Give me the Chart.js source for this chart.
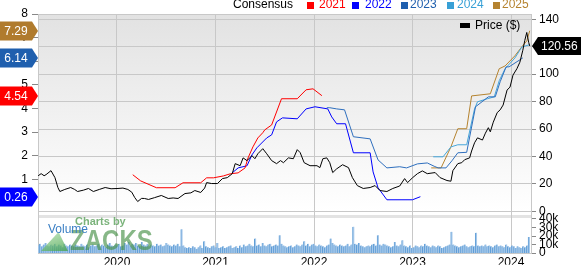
<!DOCTYPE html>
<html>
<head>
<meta charset="utf-8">
<script src="https://cdn.jsdelivr.net/npm/chart.js@4.4.1/dist/chart.umd.min.js"></script>
<style>
    body { margin: 0; background: #fff; }
    #wrap { position: relative; width: 581px; height: 265px; overflow: hidden; font-family: 'Liberation Sans', Arial, sans-serif; }
    #wrap canvas { position: absolute; left: 0; top: 0; }
    .t { position: absolute; white-space: nowrap; font-size: 12px; line-height: 12px; }
    .sq { position: absolute; width: 7px; height: 7px; top: 2px; }
    .wm { position: absolute; white-space: nowrap; line-height: 1; }
</style>
</head>
<body>
<div id="wrap">
    <canvas id="zacksChart" width="581" height="265"></canvas>

    <div class="t" style="left:233px;top:-2px;color:#000">Consensus</div>
    <div class="sq" style="left:307px;background:#ff0000"></div>
    <div class="t" style="left:319px;top:-2px;color:#ff0000">2021</div>
    <div class="sq" style="left:352px;background:#0000ff"></div>
    <div class="t" style="left:365px;top:-2px;color:#0000ff">2022</div>
    <div class="sq" style="left:401px;background:#1f5fae"></div>
    <div class="t" style="left:410px;top:-2px;color:#1f5fae">2023</div>
    <div class="sq" style="left:447px;background:#38a0d6"></div>
    <div class="t" style="left:457px;top:-2px;color:#38a0d6">2024</div>
    <div class="sq" style="left:493px;background:#b5832f"></div>
    <div class="t" style="left:502px;top:-2px;color:#b5832f">2025</div>

    <div style="position:absolute;left:460px;top:23px;width:10px;height:5px;background:#000"></div>
    <div class="t" style="left:475px;top:19px;color:#000">Price ($)</div>

    <div style="position:absolute;left:41px;top:232px;width:27px;height:19px;opacity:0.75;
        background:linear-gradient(160deg,#b6e3b0,#3f9f45);clip-path:polygon(0 100%,100% 100%,65% 0)"></div>
    <div class="wm" style="left:75px;top:216px;font-size:11px;font-weight:bold;color:rgba(90,160,90,0.8)">Charts by</div>
    <div class="wm" style="left:70px;top:226px;font-size:29px;font-weight:bold;color:rgba(70,145,70,0.65);transform:scaleX(0.83);transform-origin:left top">ZACKS</div>
    <div class="wm" style="left:48px;top:223px;font-size:12px;color:#3a7fc4">Volume</div>
</div>

<script>
// tick labels
const yearTicks = [2020, 2021, 2022, 2023, 2024];
const priceTicks = [0, 20, 40, 60, 80, 100, 120, 140];
const epsTicks = [1, 2, 3, 4, 5, 6, 7, 8];
const volTicks = [0, 10, 20, 30, 40];

// price ($), dates as decimal years
const priceDates = [
    2019.20, 2019.23, 2019.26, 2019.28, 2019.33, 2019.37, 2019.40, 2019.42, 2019.47, 2019.53,
    2019.57, 2019.60, 2019.66, 2019.71, 2019.76, 2019.82, 2019.88, 2019.94, 2020.01, 2020.06,
    2020.11, 2020.15, 2020.18, 2020.21, 2020.25, 2020.28, 2020.32, 2020.38, 2020.45, 2020.52,
    2020.57, 2020.62, 2020.69, 2020.75, 2020.79, 2020.85, 2020.89, 2020.91, 2020.96, 2021.02,
    2021.07, 2021.12, 2021.17, 2021.20, 2021.25, 2021.28, 2021.32, 2021.37, 2021.40, 2021.43,
    2021.48, 2021.52, 2021.57, 2021.62, 2021.66, 2021.69, 2021.74, 2021.79, 2021.83, 2021.86,
    2021.90, 2021.96, 2022.03, 2022.06, 2022.09, 2022.13, 2022.16, 2022.19, 2022.23, 2022.29,
    2022.35, 2022.39, 2022.44, 2022.50, 2022.57, 2022.62, 2022.67, 2022.74, 2022.80, 2022.87,
    2022.92, 2022.95, 2023.00, 2023.05, 2023.10, 2023.15, 2023.23, 2023.28, 2023.35, 2023.39,
    2023.41, 2023.46, 2023.50, 2023.53, 2023.58, 2023.60, 2023.63, 2023.66, 2023.71, 2023.74,
    2023.77, 2023.79, 2023.82, 2023.86, 2023.89, 2023.92, 2023.96, 2023.99, 2024.02, 2024.06,
    2024.09, 2024.12, 2024.14, 2024.16, 2024.18, 2024.19
];
const priceValues = [
    26, 27.5, 26, 26.8, 29.7, 24.6, 17.4, 14.5, 16, 17.4,
    16, 14.5, 15.5, 16.7, 14.5, 16, 17.4, 16.5, 16.7, 17,
    16, 14, 10.1, 7.2, 9.5, 9.4, 8.7, 10, 11.6, 9.4,
    9.8, 9.4, 13, 13.5, 15.2, 13.8, 17, 21, 20.3, 20.3,
    23.9, 24.6, 27.5, 34.8, 33.3, 39, 37, 40.6, 38.4, 42,
    45.7, 42, 37, 34.8, 37, 35.5, 39, 38.4, 45, 42.8,
    35.5, 33.3, 33.3, 31.9, 38.4, 39, 35.5, 28.3, 31, 34,
    31.9, 24.6, 18.8, 16.7, 17.4, 18.8, 15.2, 14.5, 16.7, 18.5,
    23.9, 21, 24.5, 27.5, 29.5, 27.5, 28.3, 24.6, 22.5, 22,
    29.7, 34.8, 35.5, 37.7, 39, 44, 50, 53.6, 52, 57,
    61, 58, 65, 72, 74, 77.5, 88.4, 90.6, 99.3, 104,
    108.7, 117.4, 124.6, 130.4, 123, 120.56
];

// consensus EPS estimates by fiscal year
const eps2021Dates = [2020.16, 2020.24, 2020.40, 2020.59, 2020.67, 2020.85, 2020.91, 2020.98, 2021.08, 2021.15, 2021.23,
    2021.30, 2021.33, 2021.38, 2021.43, 2021.48, 2021.50, 2021.57, 2021.67, 2021.83, 2021.92, 2021.99, 2022.08];
const eps2021Values = [1.19, 0.93, 0.64, 0.64, 0.85, 0.85, 1.06, 1.06, 1.14, 1.23, 1.27,
    1.48, 1.9, 2.37, 2.75, 2.97, 3.09, 3.3, 4.41, 4.41, 4.79, 4.83, 4.54];

const eps2022Dates = [2021.17, 2021.23, 2021.32, 2021.37, 2021.42, 2021.52, 2021.57, 2021.62, 2021.68, 2021.83, 2021.92,
    2022.01, 2022.14, 2022.18, 2022.23, 2022.32, 2022.40, 2022.57, 2022.60, 2022.65, 2022.74, 2023.00, 2023.08];
const eps2022Values = [1.27, 1.48, 1.57, 2.03, 2.33, 2.75, 2.88, 3.43, 3.6, 3.56, 3.98,
    4.07, 3.98, 3.64, 3.35, 3.35, 2.12, 2.12, 1.31, 0.64, 0.13, 0.13, 0.26];

const eps2023Dates = [2022.13, 2022.16, 2022.23, 2022.31, 2022.40, 2022.57, 2022.65, 2022.74, 2022.87, 2022.94, 2023.05,
    2023.15, 2023.22, 2023.26, 2023.34, 2023.40, 2023.46, 2023.55, 2023.64, 2023.77, 2023.84, 2023.89, 2023.95, 2023.98, 2024.12];
const eps2023Values = [4.03, 4.03, 3.98, 3.94, 2.8, 2.71, 1.82, 1.48, 1.53, 1.48, 1.65,
    1.69, 1.55, 1.48, 1.48, 1.78, 2.12, 2.14, 4.07, 4.49, 4.49, 5.13, 5.76, 5.76, 6.14];

const eps2024Dates = [2023.21, 2023.31, 2023.39, 2023.46, 2023.55, 2023.63, 2023.66, 2023.76, 2023.83, 2023.88, 2023.94,
    2024.04, 2024.11, 2024.19];
const eps2024Values = [1.95, 1.95, 2.37, 2.46, 2.46, 3.98, 4.28, 4.41, 4.49, 5.17, 5.68,
    6.14, 6.6, 6.7];

const eps2025Dates = [2023.19, 2023.29, 2023.39, 2023.46, 2023.55, 2023.60, 2023.79, 2023.88, 2023.94, 2024.04, 2024.11,
    2024.16, 2024.19];
const eps2025Values = [1.48, 1.48, 2.37, 3.14, 3.14, 4.53, 4.62, 5.68, 5.8, 6.23, 6.61,
    6.86, 7.29];

// weekly volume (thousands), first week starting 2019.2
const volumeStart = 2019.2;
const volumeValues = [
    9, 11, 8, 10, 12, 9, 8, 10, 9, 11,
    8, 10, 9, 7, 11, 9, 8, 10, 9, 8,
    10, 9, 8, 11, 9, 8, 10, 7, 9, 10,
    8, 9, 11, 8, 10, 9, 7, 10, 12, 9,
    8, 10, 9, 11, 8, 9, 12, 10, 13, 9,
    11, 10, 12, 9, 8, 13, 10, 9, 11, 8,
    10, 9, 8, 11, 9, 10, 8, 9, 12, 10,
    9, 8, 10, 9, 11, 8, 28, 9, 7, 6,
    7, 6, 8, 7, 5, 7, 9, 6, 14, 8,
    7, 6, 8, 9, 7, 12, 6, 7, 8, 6,
    7, 8, 9, 6, 7, 8, 6, 9, 7, 10,
    8, 9, 11, 9, 8, 17, 9, 10, 8, 12,
    9, 8, 10, 11, 8, 9, 10, 9, 21, 11,
    9, 8, 7, 8, 9, 7, 8, 10, 9, 8,
    10, 14, 9, 11, 8, 10, 11, 9, 8, 10,
    9, 8, 7, 9, 10, 17, 12, 10, 9, 8,
    10, 9, 8, 9, 11, 8, 10, 31, 11, 10,
    12, 9, 8, 7, 8, 9, 8, 10, 11, 9,
    21, 10, 9, 11, 10, 9, 8, 7, 8, 13,
    9, 8, 10, 15, 9, 8, 7, 9, 6, 7,
    9, 8, 7, 9, 8, 11, 9, 8, 7, 9,
    8, 7, 9, 8, 6, 7, 8, 9, 10, 25,
    10, 9, 8, 7, 8, 9, 10, 8, 7, 8,
    9, 8, 24, 9, 8, 9, 8, 10, 8, 9,
    8, 7, 9, 10, 8, 9, 8, 7, 10, 8,
    7, 9, 8, 6, 8, 7, 6, 8, 7, 9,
    19
];

// latest-value tags
const epsTagValues = [7.29, 6.14, 4.54, 0.26];
const epsTagColors = ['#b07b2d', '#1f5fae', '#ff0000', '#0000ff'];

// axis ranges (pixel layout of the original panels)
const X_MIN = 2019.198, X_MAX = 2024.203;
const P_MIN = -30.9, P_MAX = 143.85;
const E_MIN = -2.159, E_MAX = 8;
const V_MIN = -0.8, V_MAX = 280.2;
const WEEK = 7 / 365.25;

Chart.defaults.font.family = "'Liberation Sans', Arial, sans-serif";
Chart.defaults.font.size = 12;
Chart.defaults.color = '#000';

function pts(dates, values) {
    return dates.map((x, i) => ({ x: x, y: values[i] }));
}

function volToPrice(k) {
    return P_MIN + (k - V_MIN) / (V_MAX - V_MIN) * (P_MAX - P_MIN);
}

function epsLine(label, dates, values, color) {
    return {
        label: label, data: pts(dates, values), yAxisID: 'yEps',
        borderColor: color, borderWidth: 1, pointRadius: 0, tension: 0, order: 5
    };
}

const panelPlugin = {
    id: 'panels',
    beforeDraw(chart) {
        const { ctx, chartArea: a, scales } = chart;
        const y0 = scales.y.getPixelForValue(0);
        const g = ctx.createLinearGradient(0, a.top, 0, y0);
        g.addColorStop(0, '#e2e2e2');
        g.addColorStop(1, '#ffffff');
        ctx.save();
        ctx.fillStyle = g;
        ctx.fillRect(a.left, a.top, a.right - a.left, y0 - a.top);
        ctx.fillStyle = '#e3e3e3';
        ctx.fillRect(a.left, Math.round(y0) + 4, a.right - a.left, 3);
        ctx.strokeStyle = '#c8c8c8';
        ctx.lineWidth = 1;
        ctx.beginPath();
        ctx.moveTo(a.left, a.top + 0.5);
        ctx.lineTo(a.right, a.top + 0.5);
        ctx.stroke();
        ctx.restore();
    }
};

const tagPlugin = {
    id: 'tags',
    afterDraw(chart) {
        const { ctx, scales } = chart;
        ctx.save();
        ctx.font = "12px 'Liberation Sans', Arial, sans-serif";
        ctx.textBaseline = 'middle';
        epsTagValues.forEach((v, i) => {
            const y = Math.round(scales.yEps.getPixelForValue(v));
            ctx.fillStyle = epsTagColors[i];
            ctx.beginPath();
            ctx.moveTo(0, y - 9.5);
            ctx.lineTo(32, y - 9.5);
            ctx.lineTo(38, y);
            ctx.lineTo(32, y + 9.5);
            ctx.lineTo(0, y + 9.5);
            ctx.closePath();
            ctx.fill();
            ctx.fillStyle = '#fff';
            ctx.textAlign = 'center';
            ctx.fillText(v.toFixed(2), 16, y + 1);
        });
        const last = priceValues[priceValues.length - 1];
        const y = Math.round(scales.y.getPixelForValue(last));
        ctx.fillStyle = '#000';
        ctx.beginPath();
        ctx.moveTo(532, y);
        ctx.lineTo(538, y - 9);
        ctx.lineTo(581, y - 9);
        ctx.lineTo(581, y + 9);
        ctx.lineTo(538, y + 9);
        ctx.closePath();
        ctx.fill();
        ctx.fillStyle = '#fff';
        ctx.textAlign = 'left';
        ctx.fillText(last.toFixed(2), 541, y + 1);
        ctx.restore();
    }
};

const ctx = document.getElementById('zacksChart').getContext('2d');
const zacksChart = new Chart(ctx, {
    type: 'line',
    data: {
        datasets: [
            {
                label: 'Price ($)', data: pts(priceDates, priceValues), yAxisID: 'y',
                borderColor: '#000', borderWidth: 1, pointRadius: 0, tension: 0, order: 1
            },
            epsLine('2021', eps2021Dates, eps2021Values, '#ff0000'),
            epsLine('2022', eps2022Dates, eps2022Values, '#0000ff'),
            epsLine('2023', eps2023Dates, eps2023Values, '#2f6fbe'),
            epsLine('2024', eps2024Dates, eps2024Values, '#45a6da'),
            epsLine('2025', eps2025Dates, eps2025Values, '#b5832f'),
            {
                type: 'bar', label: 'Volume', yAxisID: 'yVol', order: 10,
                data: volumeValues.map((v, i) => ({ x: volumeStart + i * WEEK, y: v })),
                backgroundColor: '#a6c8ea', borderColor: '#5b9bd5',
                borderWidth: { left: 1, right: 0, top: 0, bottom: 0 },
                barPercentage: 1, categoryPercentage: 1
            }
        ]
    },
    options: {
        responsive: false, animation: false, events: [], devicePixelRatio: 1,
        layout: { padding: { top: 14, left: 0, right: 0, bottom: 0 } },
        plugins: { legend: { display: false }, tooltip: { enabled: false } },
        scales: {
            x: {
                type: 'linear', min: X_MIN, max: X_MAX, offset: false,
                afterBuildTicks: s => { s.ticks = yearTicks.map(v => ({ value: v })); },
                afterFit: s => { s.height = 11; },
                grid: { color: '#c8c8c8', drawTicks: false, offset: false },
                border: { color: '#c8c8c8' },
                ticks: { padding: 2, autoSkip: false, maxRotation: 0, callback: v => String(v) }
            },
            yEps: {
                position: 'left', min: E_MIN, max: E_MAX,
                afterBuildTicks: s => { s.ticks = epsTicks.map(v => ({ value: v })); },
                afterFit: s => { s.width = 38; },
                grid: { drawOnChartArea: false, tickLength: 6, tickColor: '#888' },
                border: { color: '#c8c8c8' },
                ticks: { padding: 4, autoSkip: false }
            },
            y: {
                position: 'right', min: P_MIN, max: P_MAX,
                afterBuildTicks: s => {
                    s.ticks = priceTicks.map(v => ({ value: v }))
                        .concat(volTicks.map(k => ({ value: volToPrice(k), vol: k })));
                },
                afterFit: s => { s.width = 50; },
                grid: {
                    color: c => (c.tick && c.tick.vol !== undefined) ? 'rgba(0,0,0,0)' : '#c8c8c8',
                    tickColor: '#888', tickLength: 5
                },
                border: { color: '#c8c8c8' },
                ticks: {
                    padding: 3, autoSkip: false,
                    callback: (v, i, ticks) => {
                        const k = ticks[i].vol;
                        if (k === undefined) return String(v);
                        return k === 0 ? '0' : k + 'k';
                    }
                }
            },
            yVol: { display: false, min: V_MIN, max: V_MAX }
        }
    },
    plugins: [panelPlugin, tagPlugin]
});
</script>
</body>
</html>
